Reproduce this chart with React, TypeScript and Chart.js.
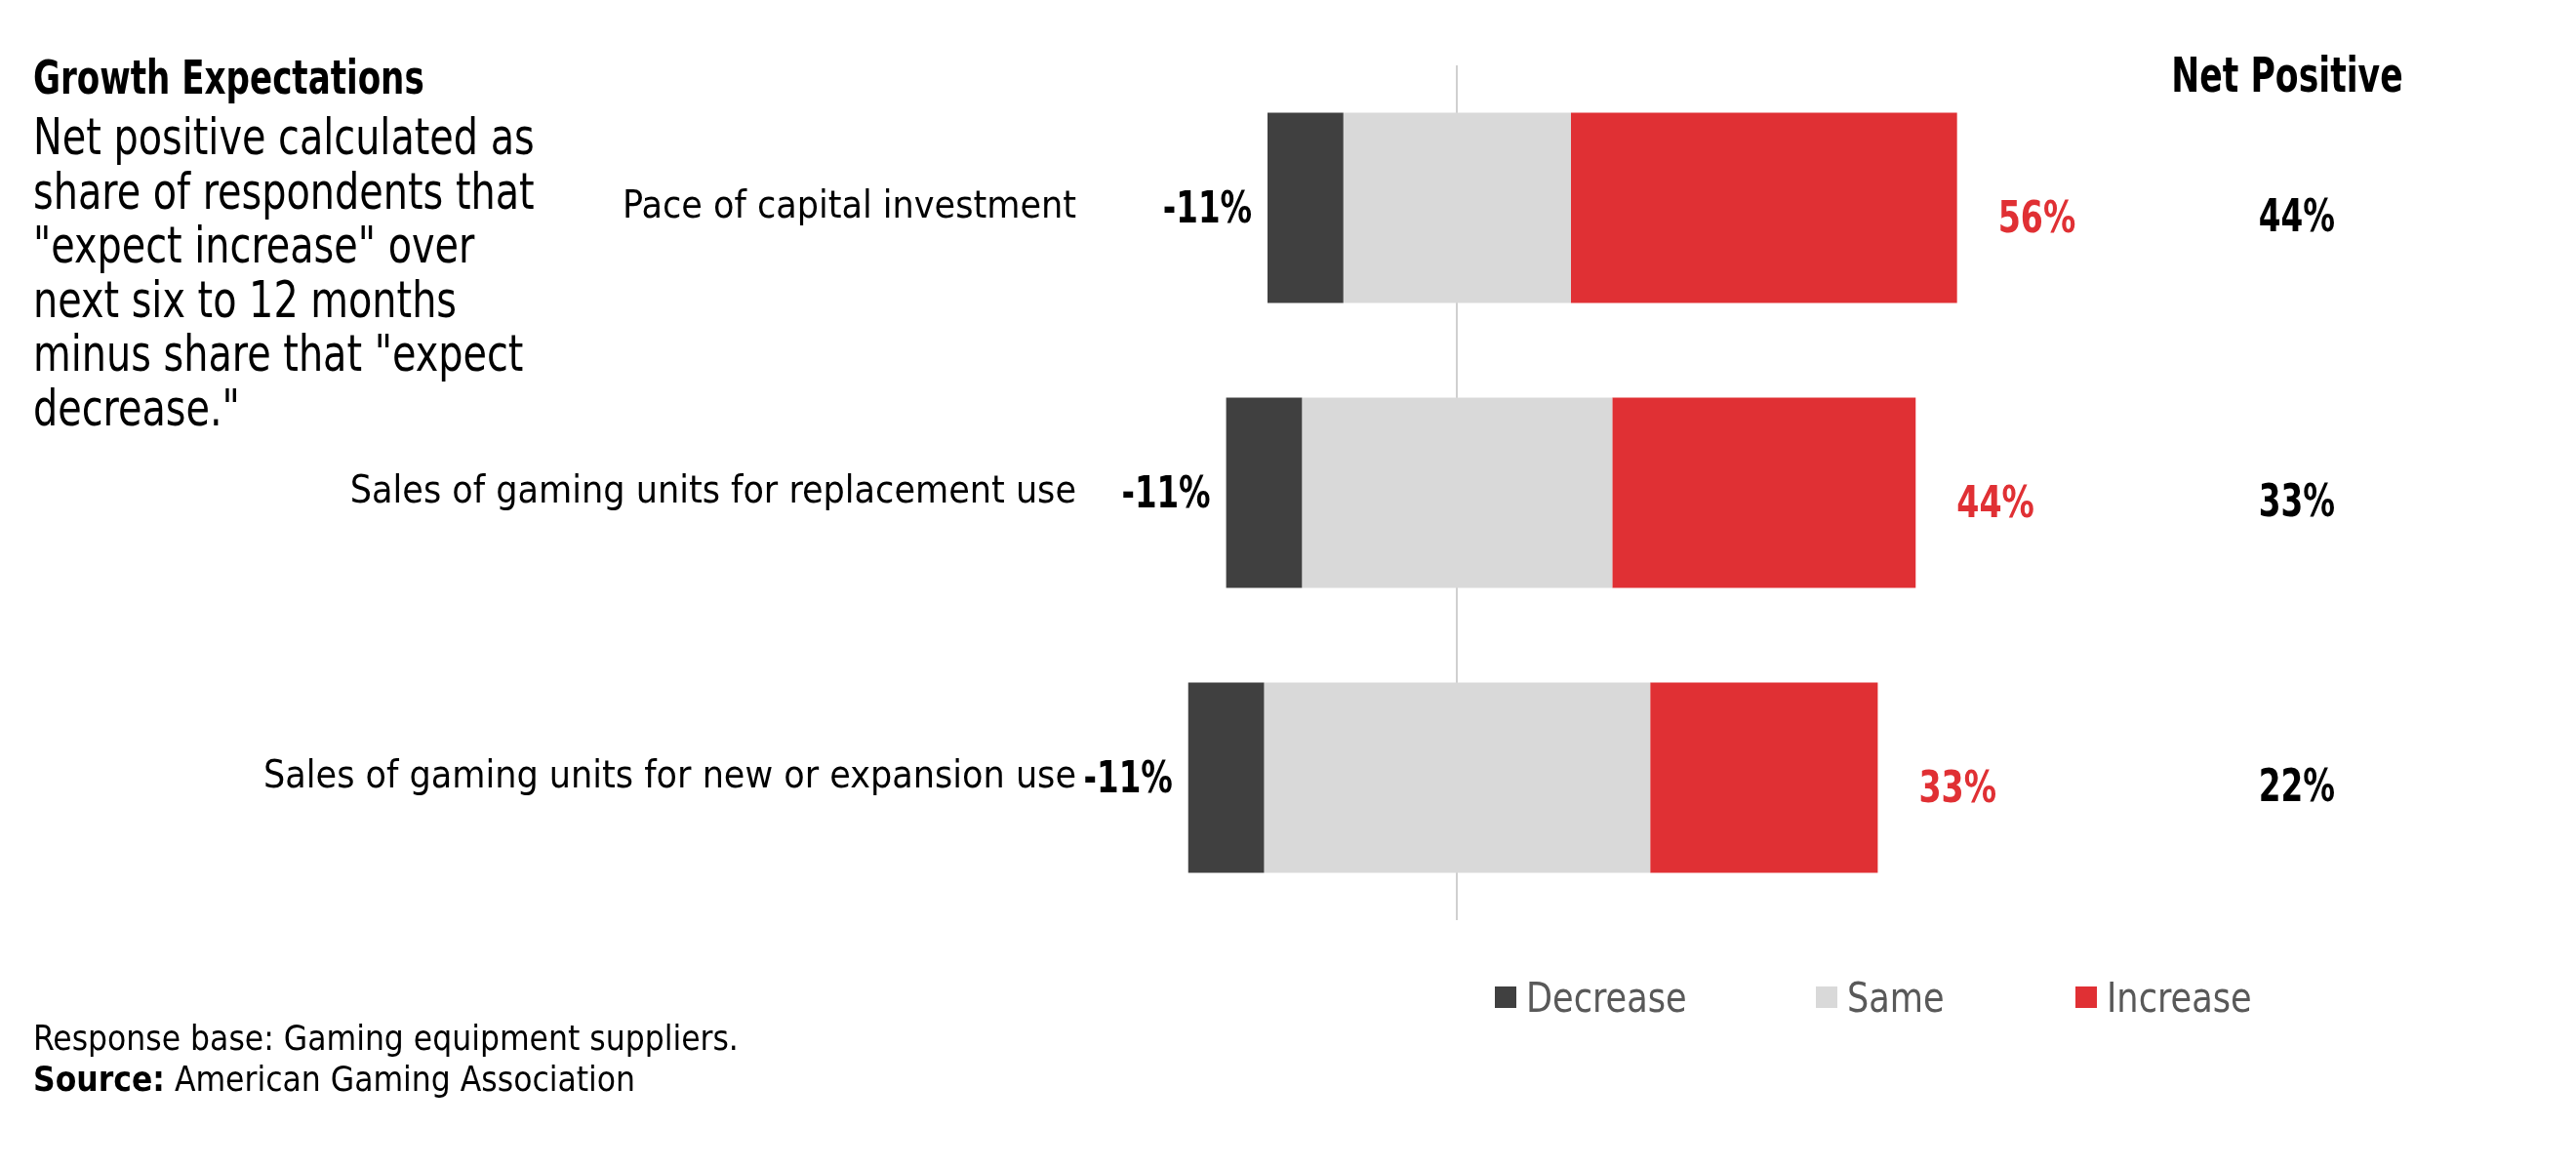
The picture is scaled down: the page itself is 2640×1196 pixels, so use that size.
import React, { useEffect, useRef } from 'react'
import Chart from 'chart.js/auto'

// data
const categories = [
    'Pace of capital investment',
    'Sales of gaming units for replacement use',
    'Sales of gaming units for new or expansion use',
]
const decrease = [11, 11, 11]
const same = [33, 45, 56]
const increase = [56, 44, 33]
const netPositive = [44, 33, 22]
const seriesNames = ['Decrease', 'Same', 'Increase']
const seriesColors = ['#404040', '#d9d9d9', '#e03034']

const subtitleLines = [
    'Net positive calculated as',
    'share of respondents that',
    '"expect increase" over',
    'next six to 12 months',
    'minus share that "expect',
    'decrease."',
]

const FONT = '"Liberation Sans Narrow", "DejaVu Sans Condensed", "Arial Narrow", sans-serif'

// canvas text squeezed horizontally, the reference uses a very narrow face
const squeezed = (ctx: CanvasRenderingContext2D, s: string, x: number, y: number, align: CanvasTextAlign, sx: number) => {
    ctx.save()
    ctx.translate(x, y)
    ctx.scale(sx, 1)
    ctx.textAlign = align
    ctx.fillText(s, 0, 0)
    ctx.restore()
}

const labelPlugin = {
    id: 'labels',
    afterDatasetsDraw(chart: any) {
        const ctx = chart.ctx
        const area = chart.chartArea
        const decBars = chart.getDatasetMeta(0).data
        const incBars = chart.getDatasetMeta(2).data
        ctx.save()
        ctx.textBaseline = 'middle'
        categories.forEach((_, i) => {
            const d = decBars[i]
            const left = Math.min(d.x, d.base)
            ctx.font = `bold 44px ${FONT}`
            ctx.fillStyle = '#000'
            squeezed(ctx, `-${decrease[i]}%`, left - 16, d.y + 4, 'right', 0.82)

            const inc = incBars[i]
            const right = Math.max(inc.x, inc.base)
            ctx.fillStyle = seriesColors[2]
            squeezed(ctx, `${increase[i]}%`, right + 42, inc.y + 14, 'left', 0.84)

            ctx.font = `bold 46px ${FONT}`
            ctx.fillStyle = '#000'
            squeezed(ctx, `${netPositive[i]}%`, area.right + 154, inc.y + 12, 'center', 0.79)
        })
        ctx.font = `bold 50px ${FONT}`
        ctx.fillStyle = '#000'
        squeezed(ctx, 'Net Positive', area.right + 144, 81, 'center', 0.77)
        ctx.restore()
    },
}

const App = () => {
    const canvasRef = useRef<HTMLCanvasElement>(null)

    useEffect(() => {
        if (canvasRef.current == null) return
        const ranges = [
            categories.map((_, i) => [-same[i] / 2 - decrease[i], -same[i] / 2]),
            categories.map((_, i) => [-same[i] / 2, same[i] / 2]),
            categories.map((_, i) => [same[i] / 2, same[i] / 2 + increase[i]]),
        ]
        const chart = new Chart(canvasRef.current, {
            type: 'bar',
            data: {
                labels: categories,
                datasets: seriesNames.map((name, k) => ({
                    label: name,
                    data: ranges[k] as any,
                    backgroundColor: seriesColors[k],
                    borderWidth: 0,
                    grouped: false,
                    categoryPercentage: 1,
                    barPercentage: 0.668,
                })),
            },
            options: {
                indexAxis: 'y',
                animation: false,
                responsive: true,
                maintainAspectRatio: false,
                layout: { padding: { left: 0, right: 440, top: 67, bottom: 253 } },
                plugins: {
                    legend: { display: false },
                    tooltip: { enabled: false },
                },
                scales: {
                    x: {
                        min: -50,
                        max: 100,
                        ticks: { display: false, stepSize: 10 },
                        border: { display: false },
                        grid: {
                            drawTicks: false,
                            lineWidth: 2,
                            color: (c: any) => (c.tick && c.tick.value === 0 ? '#d0d0d0' : 'rgba(0,0,0,0)'),
                        },
                    },
                    y: {
                        afterFit: (scale: any) => { scale.width = 1140 },
                        border: { display: false },
                        grid: { display: false, drawTicks: false },
                        ticks: {
                            padding: 37,
                            color: '#000',
                            font: { family: FONT, size: 39 },
                        },
                    },
                },
            },
            plugins: [labelPlugin],
        })
        return () => {
            chart.destroy()
        }
    }, [])

    const text: React.CSSProperties = { position: 'absolute', fontFamily: FONT, color: '#000', whiteSpace: 'nowrap' }
    const squeeze = (sx: number): React.CSSProperties => ({ transform: `scaleX(${sx})`, transformOrigin: 'left center' })

    return (
        <div style={{ position: 'absolute', left: 0, top: 0, width: 2640, height: 1196, background: '#fff', overflow: 'hidden' }}>
            <div style={{ position: 'absolute', left: 0, top: 0, width: 2640, height: 1196 }}>
                <canvas ref={canvasRef}></canvas>
            </div>
            <div style={{ ...text, ...squeeze(0.79), left: 34, top: 51, fontSize: 48, lineHeight: '56px', fontWeight: 'bold' }}>Growth Expectations</div>
            <div style={{ ...text, ...squeeze(0.85), left: 34, top: 113, fontSize: 52, lineHeight: '55.5px' }}>
                {subtitleLines.map((l, i) => <div key={i}>{l}</div>)}
            </div>
            {seriesNames.map((name, k) => (
                <div key={name} style={{ ...text, left: [1532, 1861, 2127][k], top: 996, height: 52, display: 'flex', alignItems: 'center', fontSize: 42, color: '#595959' }}>
                    <span style={{ display: 'inline-block', width: 22, height: 22, background: seriesColors[k], marginRight: 10 }}></span>
                    <span style={{ display: 'inline-block', ...squeeze(0.93) }}>{name}</span>
                </div>
            ))}
            <div style={{ ...text, left: 34, top: 1043, fontSize: 35, lineHeight: '42px' }}>
                <div>Response base: Gaming equipment suppliers.</div>
                <div><b>Source:</b> American Gaming Association</div>
            </div>
        </div>
    )
}

export default App
